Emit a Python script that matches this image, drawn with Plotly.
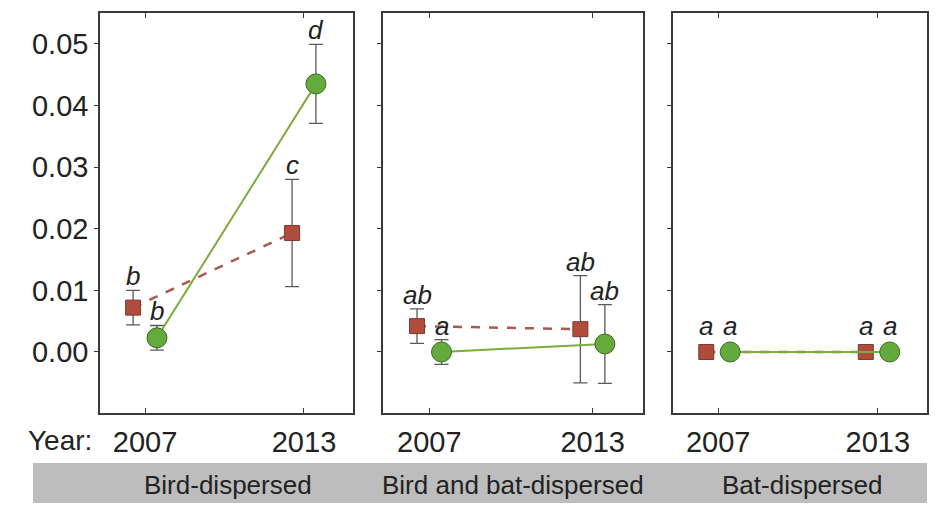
import plotly.graph_objects as go

# ---------------- data ----------------
years = [2007, 2013]
year_ticktext = ["2007", "2013"]
panel_names = ["Bird-dispersed", "Bird and bat-dispersed", "Bat-dispersed"]
y_tickvals = [0.00, 0.01, 0.02, 0.03, 0.04, 0.05]

red_mean = [[0.0072, 0.0193], [0.0042, 0.0037], [0.0, 0.0]]
red_err = [[0.0028, 0.0087], [0.0028, 0.0087], [0.0, 0.0]]
green_mean = [[0.0023, 0.0435], [0.0, 0.0013], [0.0, 0.0]]
green_err = [[0.0020, 0.0064], [0.0020, 0.0064], [0.0, 0.0]]
red_letters = [["b", "c"], ["ab", "ab"], ["a", "a"]]
green_letters = [["b", "d"], ["a", "ab"], ["a", "a"]]

# ---------------- styling ----------------
W, H = 948, 512
FONT = "Liberation Sans, Arial, sans-serif"
RED = "#b04c3c"
RED_LINE = "#a85a4c"
GREEN = "#64aa3c"
GREEN_LINE = "#7aae3c"
AX = "#3a3a3a"
OFF = 0.45  # horizontal dodge (years)

def px_x(p):
    return p / W

def px_y(p):
    return 1 - p / H

x_domains = [[px_x(100), px_x(353)], [px_x(383), px_x(643)], [px_x(673), px_x(927)]]
y_domain = [px_y(413), px_y(13)]
x_range = [2005.3, 2014.85]
y_range = [-0.0099, 0.055]

fig = go.Figure()
layout = dict(
    width=W, height=H,
    margin=dict(l=0, r=0, t=0, b=0),
    paper_bgcolor="white", plot_bgcolor="white",
    showlegend=False,
    font=dict(family=FONT, color="#222"),
)

annotations = []
for i in range(3):
    xa = "x" if i == 0 else f"x{i+1}"
    ya = "y" if i == 0 else f"y{i+1}"
    # red (dashed, squares)
    fig.add_trace(go.Scatter(
        x=[y_ - OFF for y_ in years], y=red_mean[i], xaxis=xa, yaxis=ya,
        mode="lines+markers",
        line=dict(color=RED_LINE, width=2.5, dash="dash"),
        marker=dict(symbol="square", size=15, color=RED, line=dict(color="#7a3a30", width=1)),
        error_y=dict(type="data", array=red_err[i], color="#5a5a5a", thickness=1.3, width=7),
    ))
    fig.add_trace(go.Scatter(
        x=[y_ + OFF for y_ in years], y=green_mean[i], xaxis=xa, yaxis=ya,
        mode="lines+markers",
        line=dict(color=GREEN_LINE, width=2),
        marker=dict(symbol="circle", size=20, color=GREEN, line=dict(color="#3d6b22", width=1)),
        error_y=dict(type="data", array=green_err[i], color="#5a5a5a", thickness=1.3, width=7),
    ))
    for j in range(2):
        for xs, m, e, lab in [(years[j] - OFF, red_mean[i][j], red_err[i][j], red_letters[i][j]),
                              (years[j] + OFF, green_mean[i][j], green_err[i][j], green_letters[i][j])]:
            annotations.append(dict(
                x=xs, y=m + e, xref=xa, yref=ya, text=f"<i>{lab}</i>",
                showarrow=False, yanchor="bottom", xanchor="center",
                yshift=(9 if e == 0 else -3),
                font=dict(size=26, family=FONT, color="#222"),
            ))

    xkey = "xaxis" if i == 0 else f"xaxis{i+1}"
    ykey = "yaxis" if i == 0 else f"yaxis{i+1}"
    layout[xkey] = dict(
        domain=x_domains[i], anchor=ya, range=x_range,
        tickvals=years, ticktext=year_ticktext,
        ticks="inside", ticklen=5, tickcolor=AX, tickwidth=1,
        showline=True, linecolor=AX, linewidth=1.5, mirror="ticks",
        showgrid=False, zeroline=False,
        tickfont=dict(size=29, family=FONT, color="#222"),
        ticklabelstandoff=2,
    )
    layout[ykey] = dict(
        domain=y_domain, anchor=xa, range=y_range,
        tickvals=y_tickvals, tickformat=".2f",
        showticklabels=(i == 0),
        ticks="outside", ticklen=4, tickcolor=AX, tickwidth=1,
        showline=True, linecolor=AX, linewidth=1.5, mirror=True,
        showgrid=False, zeroline=False,
        tickfont=dict(size=29, family=FONT, color="#222"),
        ticklabelstandoff=0,
    )
    # right-side inward ticks
    rkey = f"yaxis{i+4}"
    layout[rkey] = dict(
        overlaying=ya, anchor=xa, side="right", range=[0, 8], dtick=1,
        ticks="inside", ticklen=5, tickcolor=AX, tickwidth=1,
        showticklabels=False, showline=False, showgrid=False, zeroline=False,
    )

# "Year:" label
annotations.append(dict(
    x=px_x(60), y=px_y(440), xref="paper", yref="paper", text="Year:",
    showarrow=False, xanchor="center", yanchor="middle",
    font=dict(size=28, family=FONT, color="#222"),
))
# grey band with group names
shapes = [dict(type="rect", xref="paper", yref="paper",
               x0=px_x(33), x1=px_x(927), y0=px_y(503), y1=px_y(463),
               fillcolor="#bdbdbd", line=dict(width=0), layer="below")]
band_centers = [228, 513, 802]
for name, cx in zip(panel_names, band_centers):
    annotations.append(dict(
        x=px_x(cx), y=px_y(485), xref="paper", yref="paper", text=name,
        showarrow=False, xanchor="center", yanchor="middle",
        font=dict(size=26, family=FONT, color="#222"),
    ))

layout["annotations"] = annotations
layout["shapes"] = shapes
fig.update_layout(**layout)
fig.write_html("out.html")
